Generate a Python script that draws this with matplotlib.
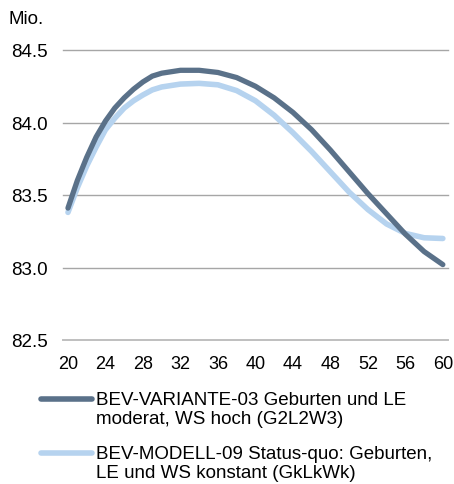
import matplotlib

matplotlib.use("Agg")

import matplotlib.pyplot as plt
from matplotlib.lines import Line2D


# ages (x axis) and population in Mio.
AGES = [20, 21, 22, 23, 24, 25, 26, 27, 28, 29, 30,
        32, 34, 36, 38, 40, 42, 44, 46, 48, 50, 52, 54, 56, 58, 60]

VARIANTE_03 = [83.41, 83.60, 83.76, 83.90, 84.01, 84.10, 84.17, 84.23, 84.28, 84.32, 84.34,
               84.36, 84.36, 84.345, 84.31, 84.25, 84.17, 84.07, 83.95, 83.81, 83.66,
               83.51, 83.37, 83.23, 83.11, 83.02]

MODELL_09 = [83.38, 83.55, 83.70, 83.83, 83.95, 84.03, 84.10, 84.15, 84.19, 84.225, 84.245,
             84.265, 84.27, 84.26, 84.22, 84.15, 84.05, 83.93, 83.80, 83.66, 83.52,
             83.40, 83.30, 83.235, 83.205, 83.20]

SERIES_LABELS = [
    "BEV-VARIANTE-03 Geburten und LE\nmoderat, WS hoch (G2L2W3)",
    "BEV-MODELL-09 Status-quo: Geburten,\nLE und WS konstant (GkLkWk)",
]

X_TICKS = list(range(20, 61, 4))
Y_TICKS = [82.5, 83.0, 83.5, 84.0, 84.5]
UNIT_LABEL = "Mio."

DARK = "#5a7189"
LIGHT = "#b6d3ef"
FS = 13.5

plt.rcParams["font.family"] = ["Liberation Sans", "DejaVu Sans"]

W, H = 454, 485
fig = plt.figure(figsize=(W / 100, H / 100), dpi=100)
ax = fig.add_axes([63 / W, 1 - 341 / H, (448 - 63) / W, (341 - 51) / H])

ax.plot(AGES, VARIANTE_03, color=DARK, lw=3.8, solid_capstyle="round",
        solid_joinstyle="round", zorder=3)
ax.plot(AGES, MODELL_09, color=LIGHT, lw=4.0, solid_capstyle="round",
        solid_joinstyle="round", zorder=2)

ax.set_xlim(19.47, 60.55)
ax.set_ylim(82.5, 84.5)
ax.set_xticks(X_TICKS)
ax.set_yticks(Y_TICKS)
ax.set_yticklabels([f"{v:.1f}" for v in Y_TICKS])

for v in Y_TICKS[1:]:
    ax.axhline(v, color="#a6a6a6", lw=1.0, zorder=1, clip_on=False)

for side in ["top", "right", "left"]:
    ax.spines[side].set_visible(False)
ax.spines["bottom"].set_color("#bfbfbf")
ax.spines["bottom"].set_linewidth(1.4)

ax.tick_params(axis="both", length=0, labelsize=FS, colors="black")
ax.tick_params(axis="x", labelsize=13.0, pad=11)
ax.tick_params(axis="y", pad=11)

fig.text(9 / W, 1 - 24 / H, UNIT_LABEL, fontsize=FS, ha="left", va="baseline")

# legend drawn by hand: handle sits on the first text line
legend_rows = [(400, DARK), (454, LIGHT)]
for (y_px, color), label in zip(legend_rows, SERIES_LABELS):
    fig.add_artist(Line2D([41 / W, 92 / W], [1 - y_px / H, 1 - y_px / H],
                          color=color, lw=4.0, solid_capstyle="round"))
    fig.text(96 / W, 1 - (y_px - 8) / H, label, fontsize=FS, ha="left", va="top",
             linespacing=1.15)

fig.savefig("out.png", dpi=100)
